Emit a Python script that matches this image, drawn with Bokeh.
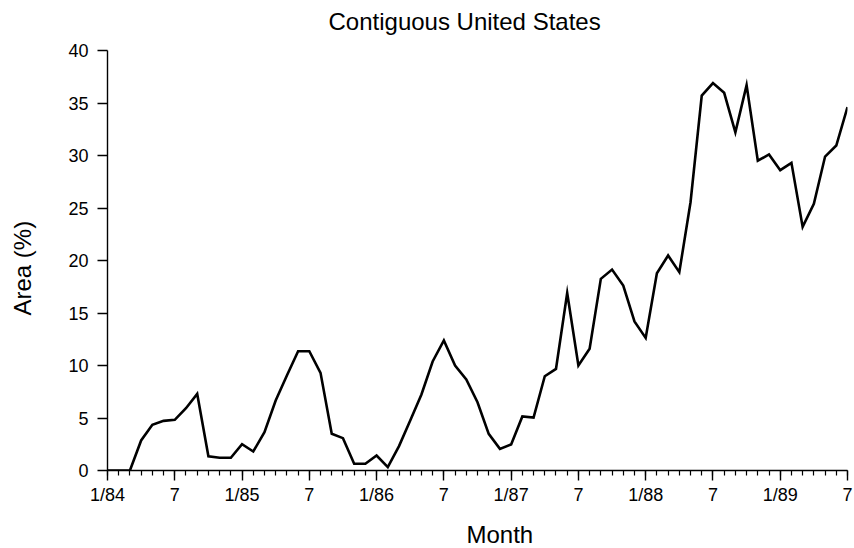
from bokeh.plotting import figure
from bokeh.models import Range1d, FixedTicker, Title, LinearAxis
from bokeh.embed import file_html
from bokeh.resources import INLINE

# Monthly drought-affected area, Jan 1984 .. Jul 1989 (month index 0..66)
months = list(range(67))
area_pct = [
    0.0, 0.0, 0.0, 2.86, 4.35, 4.73, 4.83, 5.93, 7.3, 1.36, 1.21, 1.21,        # 1984
    2.5, 1.81, 3.65, 6.67, 9.05, 11.36, 11.36, 9.3, 3.5, 3.08, 0.64, 0.64,     # 1985
    1.43, 0.32, 2.32, 4.76, 7.24, 10.38, 12.38, 10.0, 8.67, 6.5, 3.49, 2.06,   # 1986
    2.48, 5.15, 5.04, 8.98, 9.68, 16.9, 10.0, 11.59, 18.25, 19.14, 17.62, 14.19,  # 1987
    12.63, 18.79, 20.48, 18.89, 25.55, 35.7, 36.9, 35.97, 32.2, 36.7, 29.5, 30.1,  # 1988
    28.6, 29.3, 23.2, 25.4, 29.9, 30.95, 34.6,                                  # 1989
]

tick_months = [0, 6, 12, 18, 24, 30, 36, 42, 48, 54, 60, 66]
tick_labels = ["1/84", "7", "1/85", "7", "1/86", "7", "1/87", "7", "1/88", "7", "1/89", "7"]
y_ticks = [0, 5, 10, 15, 20, 25, 30, 35, 40]

FONT = "Liberation Sans"

p = figure(
    width=854, height=548,
    x_range=Range1d(0, 66), y_range=Range1d(0, 40),
    output_backend="svg", toolbar_location=None,
    min_border_left=107, min_border_right=7,
    min_border_top=50, min_border_bottom=78,
)
p.title = None
p.outline_line_color = None
p.grid.visible = False
p.background_fill_color = "white"
p.border_fill_color = "white"

p.line(months, area_pct, line_color="black", line_width=2.6, line_join="miter")

# x axis: major ticks every six months, minor ticks every month
xa = p.xaxis[0]
xa.ticker = FixedTicker(ticks=tick_months, minor_ticks=months)
xa.major_label_overrides = {m: lab for m, lab in zip(tick_months, tick_labels)}
xa.major_tick_out = 10
xa.major_tick_in = 0
xa.minor_tick_out = 5
xa.minor_tick_in = 0
xa.major_label_standoff = 4

ya = p.yaxis[0]
ya.ticker = FixedTicker(ticks=y_ticks)
ya.major_tick_out = 10
ya.major_tick_in = 0
ya.major_label_standoff = 9

for ax in (xa, ya):
    ax.axis_line_width = 1.4
    ax.major_tick_line_width = 1.4
    ax.minor_tick_line_width = 1.2
    ax.axis_line_color = "black"
    ax.major_tick_line_color = "black"
    ax.major_label_text_font = FONT
    ax.major_label_text_font_size = "18px"
    ax.major_label_text_color = "black"
ya.minor_tick_line_color = None
xa.minor_tick_line_color = "black"


def gap(size, ticks):
    """Label-less axis that only reserves `size` pixels of border space."""
    return LinearAxis(ticker=FixedTicker(ticks=ticks, minor_ticks=[]),
                      axis_line_color=None,
                      major_tick_line_color="white", minor_tick_line_color=None,
                      major_label_text_color="white", major_label_text_font_size="1px",
                      major_label_overrides={t: "" for t in ticks},
                      major_tick_out=size, major_tick_in=0, minor_tick_out=0,
                      major_label_standoff=0, axis_label=None)


def heading(text, offset):
    return Title(text=text, align="left", offset=offset, text_font=FONT,
                 text_font_size="24px", text_font_style="normal",
                 text_color="black", standoff=0)


# chart title above the frame (panels stack outward from the frame)
p.add_layout(gap(16, [33]), "above")
p.add_layout(heading("Contiguous United States", 221), "above")

# x axis title below the tick labels
p.add_layout(gap(11, [0]), "below")
p.add_layout(heading("Month", 359), "below")

# y axis title left of the tick labels
p.add_layout(gap(30, [0]), "left")
p.add_layout(heading("Area (%)", 155), "left")

open("out.html", "w").write(file_html(p, INLINE))
